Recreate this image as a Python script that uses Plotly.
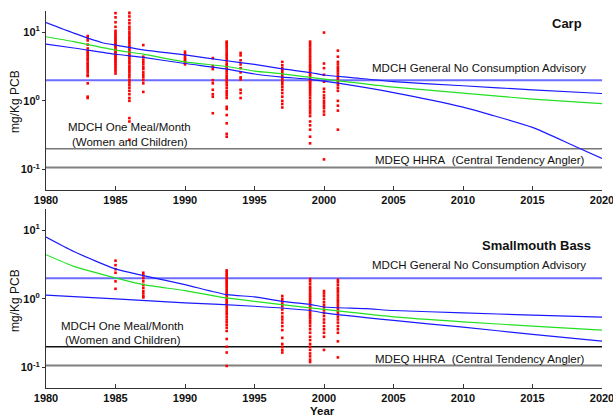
import plotly.graph_objects as go

W, H = 613, 415

# ---------------- Data ----------------
carp_obs = {
    1983: [8.8, 8.2, 7.6, 6.6, 5.8, 5.3, 5.0, 4.7, 4.4, 4.1, 3.9, 3.6, 3.4, 3.2, 3.0, 2.8, 2.6, 2.4, 2.3, 1.8, 1.15, 1.1],
    1985: [19, 16.5, 14, 12, 10.5, 9.8, 9.2, 8.7, 8.2, 7.8, 7.4, 7.0, 6.7, 6.4, 6.1, 5.8, 5.5, 5.2, 5.0, 4.7, 4.5, 4.3, 4.1, 3.9, 3.7, 3.5, 3.3, 3.1, 2.9, 2.7, 2.5],
    1986: [21, 19, 17, 15, 13.5, 12, 11, 10, 9.3, 8.6, 8.0, 7.4, 6.9, 6.4, 6.0, 5.6, 5.2, 4.9, 4.6, 4.3, 4.0, 3.7, 3.5, 3.2, 3.0, 2.8, 2.6, 2.4, 2.2, 2.0, 1.85, 1.7, 1.55, 1.4, 1.25, 1.1, 1.0, 0.56, 0.5, 0.27],
    1987: [6.5, 4.4, 4.0, 3.7, 3.4, 3.1, 2.9, 2.6, 2.4, 2.2, 2.0, 1.8, 1.35],
    1990: [5.2, 4.8, 4.5, 4.2, 4.0, 3.8, 3.6, 3.4],
    1992: [4.2, 3.2, 2.9, 2.0, 1.8, 1.45, 1.25, 1.15, 0.66],
    1993: [7.3, 7.0, 6.6, 6.2, 5.8, 5.4, 5.0, 4.7, 4.4, 4.1, 3.8, 3.5, 3.3, 3.1, 2.9, 2.7, 2.5, 2.3, 2.15, 2.0, 1.85, 1.7, 1.55, 1.4, 1.3, 1.2, 1.1, 0.82, 0.76, 0.62, 0.47, 0.33, 0.3],
    1994: [5.0, 4.6, 3.9, 3.4, 3.0, 2.6, 2.2, 2.05, 1.45, 1.3, 1.1],
    1997: [3.7, 3.3, 3.0, 2.8, 2.6, 2.4, 2.2, 2.05, 1.9, 1.75, 1.6, 1.45, 1.3, 1.15, 1.0, 0.9, 0.8],
    1999: [7.3, 6.8, 6.3, 5.8, 5.4, 5.0, 4.6, 4.3, 4.0, 3.7, 3.4, 3.2, 3.0, 2.8, 2.6, 2.45, 2.3, 2.15, 2.0, 1.9, 1.8, 1.7, 1.6, 1.5, 1.4, 1.3, 1.2, 1.1, 1.0, 0.92, 0.85, 0.78, 0.72, 0.66, 0.6, 0.5, 0.44, 0.38, 0.3, 0.24],
    2000: [9.9, 3.5, 3.0, 2.4, 1.9, 1.5, 1.35, 1.2, 1.1, 1.0, 0.92, 0.85, 0.78, 0.7, 0.63, 0.14],
    2001: [5.4, 4.4, 3.7, 3.4, 3.1, 2.9, 2.7, 2.5, 2.3, 2.15, 2.0, 1.85, 1.7, 1.55, 1.4, 1.0, 0.85, 0.72, 0.38],
}

bass_obs = {
    1985: [3.6, 3.1, 2.7, 2.4, 1.8, 1.4],
    1987: [2.4, 2.2, 2.0, 1.8, 1.6, 1.45, 1.3, 1.2, 1.1, 1.05],
    1993: [2.6, 2.45, 2.3, 2.15, 2.0, 1.9, 1.8, 1.7, 1.6, 1.5, 1.4, 1.3, 1.22, 1.15, 1.08, 1.0, 0.94, 0.88, 0.82, 0.76, 0.7, 0.65, 0.6, 0.55, 0.5, 0.46, 0.42, 0.38, 0.34, 0.26, 0.2, 0.165, 0.105],
    1997: [1.1, 1.0, 0.92, 0.85, 0.78, 0.7, 0.62, 0.55, 0.5, 0.45, 0.4, 0.35, 0.27, 0.22, 0.2, 0.18, 0.165],
    1999: [1.95, 1.8, 1.65, 1.5, 1.4, 1.3, 1.2, 1.12, 1.05, 0.98, 0.92, 0.86, 0.8, 0.75, 0.7, 0.65, 0.6, 0.56, 0.52, 0.48, 0.44, 0.4, 0.36, 0.32, 0.28, 0.25, 0.22, 0.2, 0.18, 0.16, 0.145, 0.13, 0.12],
    2000: [1.3, 1.2, 1.1, 1.0, 0.9, 0.82, 0.75, 0.68, 0.62, 0.56, 0.5, 0.45, 0.4, 0.36, 0.32, 0.28, 0.18],
    2001: [1.9, 1.75, 1.6, 1.45, 1.35, 1.25, 1.15, 1.05, 0.97, 0.9, 0.83, 0.77, 0.71, 0.65, 0.6, 0.55, 0.5, 0.45, 0.4, 0.36, 0.32, 0.24, 0.14],
}

carp_upper_x = [1980, 1982, 1984, 1985, 1987, 1990, 1993, 1995, 1997, 1999, 2000, 2002, 2005, 2010, 2015, 2020]
carp_upper_y = [13.8, 9.7, 7.1, 6.5, 5.55, 4.67, 3.84, 3.4, 2.93, 2.59, 2.38, 2.18, 1.91, 1.66, 1.45, 1.28]
carp_fit_x = [1980, 1982, 1985, 1987, 1990, 1993, 1995, 1997, 1999, 2001, 2005, 2010, 2015, 2020]
carp_fit_y = [8.6, 7.3, 5.5, 4.8, 3.7, 3.17, 2.72, 2.48, 2.2, 1.96, 1.58, 1.3, 1.06, 0.91]
carp_lower_x = [1980, 1982, 1985, 1987, 1990, 1993, 1995, 1997, 1999, 2001, 2005, 2010, 2012, 2015, 2018, 2020]
carp_lower_y = [6.7, 5.9, 4.78, 4.3, 3.5, 2.9, 2.46, 2.22, 2.06, 1.81, 1.32, 0.81, 0.625, 0.41, 0.22, 0.145]

bass_upper_x = [1980, 1982, 1985, 1987, 1990, 1993, 1995, 1997, 1999, 2000, 2003, 2005, 2010, 2015, 2020]
bass_upper_y = [7.96, 4.9, 2.73, 2.18, 1.61, 1.15, 1.07, 0.92, 0.83, 0.76, 0.72, 0.676, 0.625, 0.578, 0.54]
bass_fit_x = [1980, 1982, 1985, 1987, 1990, 1993, 1995, 1999, 2000, 2005, 2010, 2015, 2020]
bass_fit_y = [4.4, 2.98, 2.02, 1.61, 1.32, 1.03, 0.92, 0.74, 0.70, 0.547, 0.463, 0.4, 0.35]
bass_lower_x = [1980, 1985, 1990, 1995, 1999, 2000, 2005, 2010, 2015, 2020]
bass_lower_y = [1.13, 1.0, 0.875, 0.78, 0.676, 0.625, 0.484, 0.387, 0.303, 0.242]

advisory_levels = [2.0, 0.2, 0.107]   # MDCH no consumption, MDCH one meal/month, MDEQ HHRA
year_span = [1980, 2020]
x_ticks = [1980, 1985, 1990, 1995, 2000, 2005, 2010, 2015, 2020]
y_tickvals = [0.1, 1, 10]
y_ticktext = ["<b>10<sup>-1</sup></b>", "<b>10<sup>0</sup></b>", "<b>10<sup>1</sup></b>"]

# ---------------- Figure ----------------
FONT = "Liberation Sans, Arial, sans-serif"
BLUE = "#1a1aff"
GREEN = "#22e022"
fig = go.Figure()


def px(x):
    return x / W


def py(y):
    return 1 - y / H


panels = [
    ("x", "y", carp_obs, (carp_upper_x, carp_upper_y), (carp_fit_x, carp_fit_y), (carp_lower_x, carp_lower_y), "#777777"),
    ("x2", "y2", bass_obs, (bass_upper_x, bass_upper_y), (bass_fit_x, bass_fit_y), (bass_lower_x, bass_lower_y), "#111111"),
]

for xa, ya, obs, up, fit, lo, meal_color in panels:
    fig.add_trace(go.Scatter(x=year_span, y=[advisory_levels[0]] * 2, mode="lines",
                             line=dict(color="#6c6cff", width=2), xaxis=xa, yaxis=ya, showlegend=False))
    fig.add_trace(go.Scatter(x=year_span, y=[advisory_levels[1]] * 2, mode="lines",
                             line=dict(color=meal_color, width=1.4), xaxis=xa, yaxis=ya, showlegend=False))
    fig.add_trace(go.Scatter(x=year_span, y=[advisory_levels[2]] * 2, mode="lines",
                             line=dict(color="#808080", width=2), xaxis=xa, yaxis=ya, showlegend=False))
    xs, ys = [], []
    for yr, vals in obs.items():
        xs += [yr] * len(vals)
        ys += vals
    fig.add_trace(go.Scatter(x=xs, y=ys, mode="markers",
                             marker=dict(color="#ff0000", size=2.6, symbol="square", line=dict(width=0)),
                             xaxis=xa, yaxis=ya, showlegend=False))
    for (cx, cy), col in ((up, BLUE), (lo, BLUE), (fit, GREEN)):
        fig.add_trace(go.Scatter(x=cx, y=cy, mode="lines",
                                 line=dict(color=col, width=1.2, shape="spline", smoothing=0.6),
                                 xaxis=xa, yaxis=ya, showlegend=False))

xdom = [px(46), px(602)]
xaxis_common = dict(range=year_span, tickvals=x_ticks, ticks="inside", ticklen=4, tickcolor="#333",
                    showline=True, linecolor="#333", linewidth=1, showgrid=False, zeroline=False,
                    ticklabeloverflow="allow", automargin=False,
                    tickfont=dict(family=FONT, size=11, color="#111", weight="bold"), domain=xdom)
yaxis_common = dict(type="log", range=[-1.3, 1.31], tickvals=y_tickvals, ticktext=y_ticktext,
                    ticks="outside", ticklen=3, tickcolor="#333", showline=True, linecolor="#333", linewidth=1,
                    showgrid=False, zeroline=False, automargin=False,
                    tickfont=dict(family=FONT, size=11, color="#111"))

fig.update_layout(
    width=W, height=H, margin=dict(l=0, r=0, t=0, b=0, autoexpand=False),
    paper_bgcolor="white", plot_bgcolor="white",
    xaxis=dict(xaxis_common, anchor="y"),
    yaxis=dict(yaxis_common, domain=[py(190), py(11)], anchor="x"),
    xaxis2=dict(xaxis_common, anchor="y2"),
    yaxis2=dict(yaxis_common, domain=[py(388), py(209)], anchor="x2"),
)


def note(text, x, y, size=11.5, bold=False, xanchor="center", angle=0):
    fig.add_annotation(text=f"<b>{text}</b>" if bold else text, x=px(x), y=py(y), xref="paper", yref="paper",
                       showarrow=False, xanchor=xanchor, yanchor="middle", textangle=angle,
                       font=dict(family=FONT, size=size, color="#111"))


# top panel texts
note("Carp", 584, 23, size=13, bold=True, xanchor="right")
note("MDCH General No Consumption Advisory", 479, 68)
note("MDCH One Meal/Month", 129, 127)
note("(Women and Children)", 130, 141.5)
note("MDEQ HHRA\u00a0 (Central Tendency Angler)", 480, 160)
note("mg/Kg PCB", 15, 102, size=12, angle=-90)

# bottom panel texts
note("Smallmouth Bass", 593, 245, size=13, bold=True, xanchor="right")
note("MDCH General No Consumption Advisory", 479, 265)
note("MDCH One Meal/Month", 122.5, 326)
note("(Women and Children)", 123, 340)
note("MDEQ HHRA\u00a0 (Central Tendency Angler)", 480, 358.5)
note("mg/Kg PCB", 15, 301, size=12, angle=-90)
note("Year", 322, 411, bold=True)

fig.write_html("out.html", config={"displayModeBar": False},
               post_script="document.body.style.margin='0';document.body.style.padding='0';")
